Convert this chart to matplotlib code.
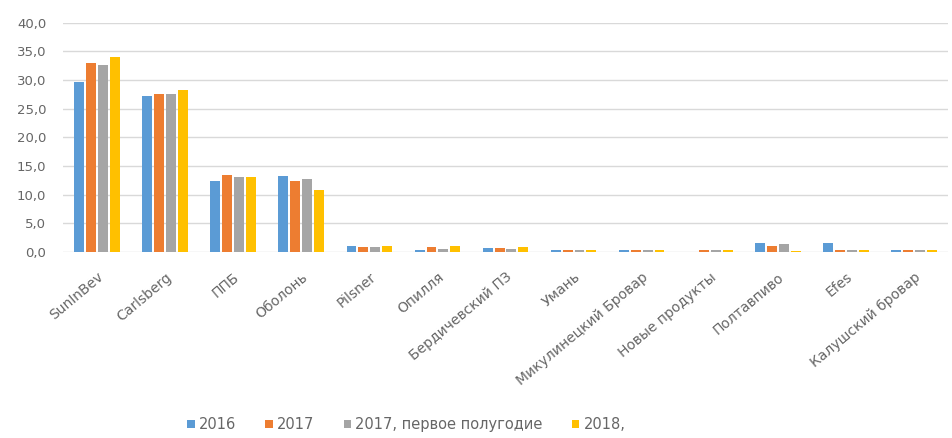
import numpy as np
import matplotlib
matplotlib.use("Agg")
import matplotlib.pyplot as plt
from matplotlib.ticker import FuncFormatter, MultipleLocator

# brewers and market shares, %
brewers = ["SunInBev", "Carlsberg", "ППБ", "Оболонь", "Pilsner", "Опилля",
           "Бердичевский ПЗ", "Умань", "Микулинецкий Бровар", "Новые продукты",
           "Полтавпиво", "Efes", "Калушский бровар"]

share_2016 = [29.6, 27.3, 12.3, 13.3, 1.1, 0.3, 0.6, 0.3, 0.3, 0.0, 1.5, 1.6, 0.3]
share_2017 = [32.9, 27.5, 13.5, 12.3, 0.8, 0.8, 0.6, 0.3, 0.3, 0.3, 1.0, 0.3, 0.3]
share_2017h1 = [32.6, 27.5, 13.0, 12.7, 0.8, 0.5, 0.5, 0.3, 0.3, 0.3, 1.3, 0.3, 0.3]
share_2018 = [34.1, 28.3, 13.0, 10.8, 1.1, 1.1, 0.8, 0.3, 0.3, 0.3, 0.2, 0.3, 0.3]

series = [("2016", share_2016, "#5B9BD5"),
          ("2017", share_2017, "#ED7D31"),
          ("2017, первое полугодие", share_2017h1, "#A5A5A5"),
          ("2018,", share_2018, "#FFC000")]

plt.rcParams['font.family'] = ['DejaVu Sans']

fig = plt.figure(figsize=(9.52, 4.38), dpi=100)
ax = fig.add_axes([0.066, 0.425, 0.93, 0.523])

x = np.arange(len(brewers))
step = 0.174
width = 0.145
for i, (name, vals, col) in enumerate(series):
    ax.bar(x + (i - 1.5) * step, vals, width, color=col, label=name, zorder=3)

ax.set_xlim(-0.5, len(brewers) - 0.5)
ax.set_ylim(0, 40)
ax.yaxis.set_major_locator(MultipleLocator(5))
ax.yaxis.set_major_formatter(FuncFormatter(lambda v, p: f"{v:.1f}".replace(".", ",")))
ax.grid(axis='y', color='#D9D9D9', linewidth=1, zorder=0)
for s in ax.spines.values():
    s.set_visible(False)
ax.tick_params(axis='both', length=0, colors='#666666')
ax.tick_params(axis='y', pad=12, labelsize=9.5)

ax.set_xticks(x)
ax.set_xticklabels(brewers, rotation=40, ha='right', rotation_mode='anchor', fontsize=10)
ax.tick_params(axis='x', pad=13)

leg = fig.legend(loc='center left', bbox_to_anchor=(0.183, 0.03), ncol=4, frameon=False,
                 fontsize=10.5, handlelength=0.5, handleheight=0.5, handletextpad=0.3,
                 columnspacing=2.0, labelcolor='#666666')

fig.savefig("out.png", dpi=100, facecolor='white')
